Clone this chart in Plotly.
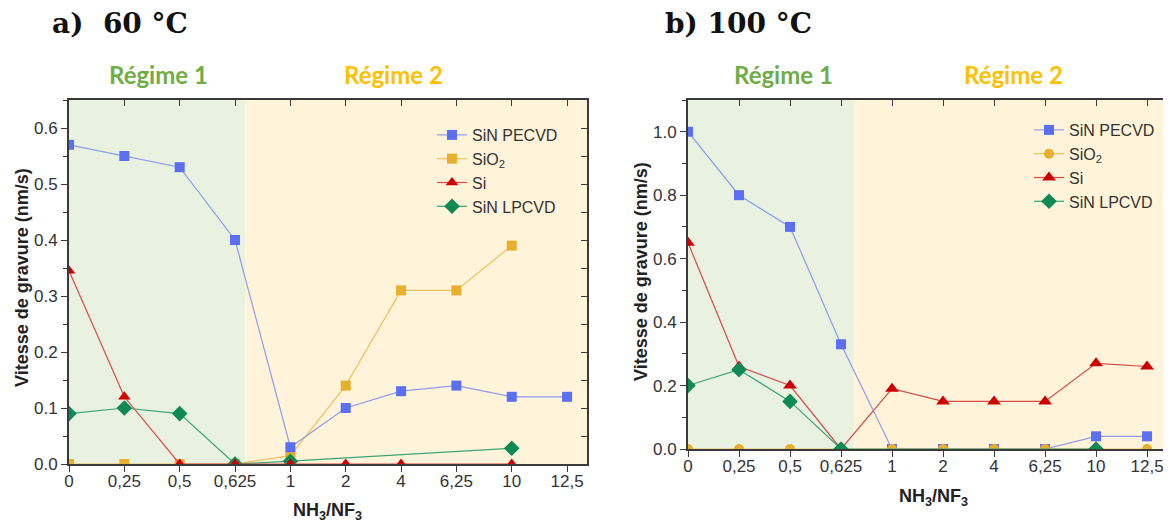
import plotly.graph_objects as go

# ---------------- data ----------------
ratios = ["0", "0,25", "0,5", "0,625", "1", "2", "4", "6,25", "10", "12,5"]
idx = list(range(len(ratios)))

# a) 60 °C
a_sin_pecvd = [0.57, 0.55, 0.53, 0.40, 0.03, 0.10, 0.13, 0.14, 0.12, 0.12]
a_sio2 = [0.0, 0.0, 0.0, 0.0, 0.015, 0.14, 0.31, 0.31, 0.39, None]
a_si = [0.345, 0.12, 0.0, 0.0, 0.0, 0.0, 0.0, None, 0.0, None]
a_sin_lpcvd = [0.09, 0.10, 0.09, 0.0, 0.005, None, None, None, 0.028, None]

# b) 100 °C
b_sin_pecvd = [1.0, 0.80, 0.70, 0.33, 0.0, 0.0, 0.0, 0.0, 0.04, 0.04]
b_sio2 = [0.0, 0.0, 0.0, 0.0, 0.0, 0.0, 0.0, 0.0, 0.0, 0.0]
b_si = [0.65, 0.26, 0.20, 0.0, 0.19, 0.15, 0.15, 0.15, 0.27, 0.26]
b_sin_lpcvd = [0.20, 0.25, 0.15, 0.0, None, None, None, None, 0.0, None]

series_names = ["SiN PECVD", "SiO<sub>2</sub>", "Si", "SiN LPCVD"]
panel_titles = ["a)  60 °C", "b) 100 °C"]
regime_labels = ["Régime 1", "Régime 2"]
y_title = "Vitesse de gravure (nm/s)"
x_title = "NH<sub>3</sub>/NF<sub>3</sub>"

# ---------------- styles ----------------
BLUE_M, BLUE_L = "#5a6ff2", "#8d9cf0"
ORANGE_M, ORANGE_L = "#e8ae2e", "#efc15a"
RED_M, RED_L = "#cc0000", "#d84a4a"
GREEN_M, GREEN_L = "#0e8a55", "#3aa576"
GREEN_BG = "#e9f1e0"
YELLOW_BG = "#fff3d9"
AX = "#3a3a3a"
TXT = "#333333"

OFF = 8  # default page body margin
W, H = 1171 - OFF, 526 - OFF
def px(x): return (x - OFF) / W
def py(y): return 1 - (y - OFF) / H

dom_a_x = [px(69), px(587)]
dom_b_x = [px(688), min(1.0, px(1170))]
dom_a_y = [py(464), py(100)]
dom_b_y = [py(449), py(100)]
xr_a = [0, 9.36]
xr_b = [0, 9.45]

fig = go.Figure()

def add_series(vals, name, mc, lc, symbol, size, xa, ya, legend, rank):
    fig.add_trace(go.Scatter(
        x=idx, y=vals, name=name, mode="lines+markers",
        line=dict(color=lc, width=1.2),
        marker=dict(color=mc, symbol=symbol, size=size),
        connectgaps=True, xaxis=xa, yaxis=ya, legend=legend, legendrank=rank,
        cliponaxis=True,
    ))

# panel a
add_series(a_sio2, series_names[1], ORANGE_M, ORANGE_L, "square", 10, "x", "y", "legend", 2)
add_series(a_sin_lpcvd, series_names[3], GREEN_M, GREEN_L, "diamond", 12, "x", "y", "legend", 4)
add_series(a_si, series_names[2], RED_M, RED_L, "triangle-up", 11, "x", "y", "legend", 3)
add_series(a_sin_pecvd, series_names[0], BLUE_M, BLUE_L, "square", 10, "x", "y", "legend", 1)
# panel b
add_series(b_sin_pecvd, series_names[0], BLUE_M, BLUE_L, "square", 10, "x2", "y2", "legend2", 1)
add_series(b_sio2, series_names[1], ORANGE_M, ORANGE_L, "circle", 10, "x2", "y2", "legend2", 2)
add_series(b_si, series_names[2], RED_M, RED_L, "triangle-up", 12, "x2", "y2", "legend2", 3)
add_series(b_sin_lpcvd, series_names[3], GREEN_M, GREEN_L, "diamond", 12, "x2", "y2", "legend2", 4)

# empty traces to instantiate mirror axes
fig.add_trace(go.Scatter(x=[], y=[], xaxis="x3", yaxis="y3", showlegend=False))
fig.add_trace(go.Scatter(x=[], y=[], xaxis="x4", yaxis="y4", showlegend=False))

tickfont = dict(family="Arial, Liberation Sans", size=17, color=TXT)
common_x = dict(tickmode="array", tickvals=idx, ticktext=ratios, showgrid=False,
                zeroline=False, showline=True, linecolor=AX, linewidth=2,
                ticks="outside", ticklen=6, tickcolor=AX, tickfont=tickfont,
                automargin=False, ticklabelstandoff=-5)
common_y = dict(showgrid=False, zeroline=False, showline=True, linecolor=AX, linewidth=2,
                ticks="outside", ticklen=6, tickcolor=AX, tickfont=tickfont,
                tickformat=".1f", automargin=False)
mirror_x = dict(side="top", tickmode="array", tickvals=idx, showticklabels=False,
                ticks="inside", ticklen=6, tickcolor=AX, showline=True, linecolor=AX,
                linewidth=2, showgrid=False, zeroline=False, automargin=False)
legend_font = dict(family="Arial, Liberation Sans", size=16, color=TXT)

fig.update_layout(
    width=W, height=H, margin=dict(l=0, r=0, t=0, b=0, autoexpand=False),
    paper_bgcolor="white", plot_bgcolor="rgba(0,0,0,0)",
    xaxis=dict(domain=dom_a_x, range=xr_a, anchor="y", **common_x),
    yaxis=dict(domain=dom_a_y, range=[0, 0.65], anchor="x", dtick=0.1,
               minor=dict(dtick=0.05, ticks="outside", ticklen=4, tickcolor=AX), **common_y),
    xaxis2=dict(domain=dom_b_x, range=xr_b, anchor="y2", **common_x),
    yaxis2=dict(domain=dom_b_y, range=[0, 1.1], anchor="x2", dtick=0.2,
                minor=dict(dtick=0.1, ticks="outside", ticklen=4, tickcolor=AX), **common_y),
    xaxis3=dict(overlaying="x", range=xr_a, anchor="y3", **mirror_x),
    yaxis3=dict(overlaying="y", range=[0, 0.65], side="right", anchor="x3", dtick=0.05,
                showticklabels=False, ticks="inside", ticklen=6, tickcolor=AX,
                showline=True, linecolor=AX, linewidth=2, showgrid=False, zeroline=False,
                automargin=False),
    xaxis4=dict(overlaying="x2", range=xr_b, anchor="y4", **mirror_x),
    yaxis4=dict(overlaying="y2", range=[0, 1.1], side="right", anchor="x4",
                showticklabels=False, showline=False, ticks="", showgrid=False,
                zeroline=False, automargin=False),
    legend=dict(x=px(432), y=py(118), xanchor="left", yanchor="top",
                bgcolor="rgba(0,0,0,0)", tracegroupgap=0, itemwidth=30, font=legend_font),
    legend2=dict(x=px(1029), y=py(113), xanchor="left", yanchor="top",
                 bgcolor="rgba(0,0,0,0)", tracegroupgap=0, itemwidth=30, font=legend_font),
)

# background regimes
boundary_a, boundary_b = 3.18, 3.25
for xa, ya, b, xr in [("x", "y", boundary_a, xr_a), ("x2", "y2", boundary_b, xr_b)]:
    fig.add_shape(type="rect", xref=xa, yref=ya + " domain", x0=xr[0], x1=b, y0=0, y1=1,
                  fillcolor=GREEN_BG, line_width=0, layer="below")
    fig.add_shape(type="rect", xref=xa, yref=ya + " domain", x0=b, x1=xr[1], y0=0, y1=1,
                  fillcolor=YELLOW_BG, line_width=0, layer="below")

ann = []
ann.append(dict(text="<b>" + panel_titles[0] + "</b>", x=px(50), y=py(23), xanchor="left"))
ann.append(dict(text="<b>" + panel_titles[1] + "</b>", x=px(663), y=py(23), xanchor="left"))
for a in ann:
    a.update(xref="paper", yref="paper", yanchor="middle", showarrow=False,
             font=dict(family="DejaVu Serif", size=28, color="#111"))
reg = []
for x, t, c in [(158, regime_labels[0], "#70ad47"), (393, regime_labels[1], "#ffc000"),
                (783, regime_labels[0], "#70ad47"), (1013, regime_labels[1], "#ffc000")]:
    reg.append(dict(text="<b>" + t + "</b>", x=px(x), y=py(75), xref="paper", yref="paper",
                    xanchor="center", yanchor="middle", showarrow=False,
                    font=dict(family="Lato, Open Sans", size=24, color=c)))
axt = [
    dict(text="<b>" + y_title + "</b>", x=px(22), y=py(278), textangle=-90),
    dict(text="<b>" + y_title + "</b>", x=px(641), y=py(272), textangle=-90),
    dict(text="<b>" + x_title + "</b>", x=px(327), y=py(511)),
    dict(text="<b>" + x_title + "</b>", x=px(933), y=py(497)),
]
for a in axt:
    a.update(xref="paper", yref="paper", xanchor="center", yanchor="middle", showarrow=False,
             font=dict(family="Arial, Liberation Sans", size=18, color="#222"))
fig.update_layout(annotations=ann + reg + axt)

fig.write_html("out.html")
